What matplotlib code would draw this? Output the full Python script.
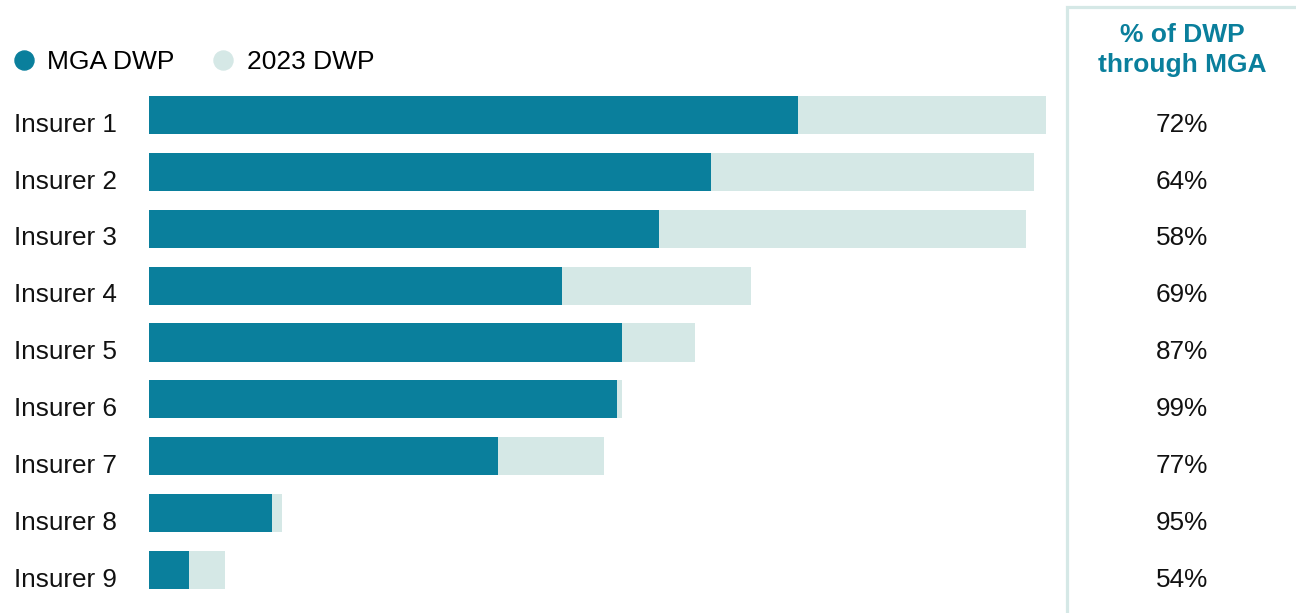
import matplotlib.pyplot as plt
from matplotlib.lines import Line2D
from matplotlib.patches import Rectangle
from matplotlib.transforms import blended_transform_factory

plt.rcParams['font.family'] = ['Liberation Sans', 'DejaVu Sans']

# Data (arbitrary units)
insurers = ["Insurer 1", "Insurer 2", "Insurer 3", "Insurer 4", "Insurer 5",
            "Insurer 6", "Insurer 7", "Insurer 8", "Insurer 9"]
total_dwp = [897, 885, 877, 602, 546, 473, 455, 133, 76]
mga_dwp = [649, 562, 510, 413, 473, 468, 349, 123, 40]
pct_mga = ["72%", "64%", "58%", "69%", "87%", "99%", "77%", "95%", "54%"]

teal = "#0a7f9c"
light = "#d5e8e6"

W, H = 1296, 613
fig = plt.figure(figsize=(W / 100, H / 100), dpi=100)
ax = fig.add_axes([149 / W, 1 - 598.5 / H, 897 / W, 512 / H])

y = range(len(insurers))
ax.barh(y, total_dwp, height=0.668, color=light)
ax.barh(y, mga_dwp, height=0.668, color=teal)
ax.set_xlim(0, 897)
ax.set_ylim(len(insurers) - 0.5, -0.5)
ax.axis("off")

# category labels and percentages (sit a little below bar centre)
tr = blended_transform_factory(fig.transFigure, ax.transData)
for i, (name, p) in enumerate(zip(insurers, pct_mga)):
    ax.text(14 / W, i + 0.17, name, transform=tr, ha="left", va="center",
            fontsize=18.8, color="#111111", clip_on=False)
    ax.text(1182 / W, i + 0.17, p, transform=tr, ha="center", va="center",
            fontsize=18.8, color="#111111", clip_on=False)

# right-hand panel
fig.patches.append(Rectangle((1067 / W, -0.1), 0.5, 1 - 7 / H + 0.1,
                             transform=fig.transFigure, fill=False,
                             edgecolor=light, linewidth=2.3))
fig.text(1182 / W, 1 - 50 / H, "% of DWP\nthrough MGA", ha="center", va="center",
         fontsize=19, fontweight="bold", color=teal, linespacing=1.33)

# legend
handles = [Line2D([], [], marker="o", ls="", color=teal, markersize=13.7),
           Line2D([], [], marker="o", ls="", color=light, markersize=13.7)]
fig.legend(handles, ["MGA DWP", "2023 DWP"], loc="center left",
           bbox_to_anchor=(13 / W, 1 - 62 / H), ncol=2, frameon=False,
           fontsize=19, handlelength=0.8, handletextpad=0.5,
           columnspacing=1.45, borderaxespad=0, borderpad=0)

fig.savefig("out.png", dpi=100)
